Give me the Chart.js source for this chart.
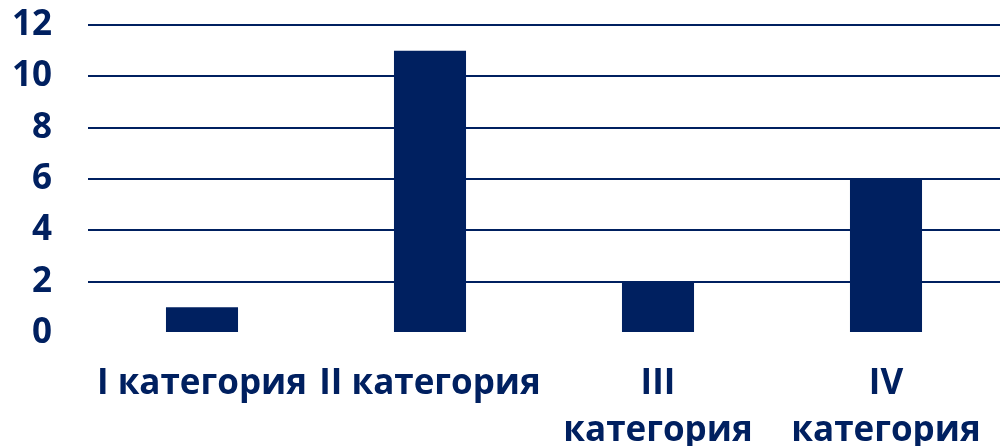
<!DOCTYPE html>
<html>
<head>
<meta charset="utf-8">
<script src="https://cdn.jsdelivr.net/npm/chart.js@4"></script>
<style>
  html, body { margin: 0; padding: 0; background: #ffffff; }
  #wrap { width: 1000px; height: 446px; }
</style>
</head>
<body>
<div id="wrap"><canvas id="barChart" width="1000" height="446"></canvas></div>
<script>
// categories (multi-line where the original wraps)
const categories = [["I категория"], ["II категория"], ["III", "категория"], ["IV", "категория"]];
const values = [1, 11, 2, 6];
const yTicks = [0, 2, 4, 6, 8, 10, 12];

const navy = "#002060";

const ctx = document.getElementById("barChart").getContext("2d");
new Chart(ctx, {
  type: "bar",
  data: {
    labels: categories,
    datasets: [
      {
        label: "Ряд 1",
        data: values,
        backgroundColor: navy,
        barPercentage: 0.632,
        categoryPercentage: 0.5,
      },
    ],
  },
  options: {
    responsive: false,
    animation: false,
    layout: { padding: { top: 25, right: 0, left: 0, bottom: 0 } },
    plugins: {
      legend: { display: false },
      tooltip: { enabled: false },
    },
    scales: {
      x: {
        grid: { display: false },
        border: { display: false },
        ticks: {
          color: navy,
          padding: 20,
          maxRotation: 0,
          autoSkip: false,
          font: { family: "'Open Sans'", weight: "bold", size: 35, lineHeight: 1.34 },
        },
        afterFit: (scale) => {
          scale.height = 113;
          scale.paddingTop = 0;
          scale.paddingLeft = 0;
          scale.paddingRight = 0;
        },
      },
      y: {
        min: 0,
        max: 12,
        afterBuildTicks: (scale) => { scale.ticks = yTicks.map((v) => ({ value: v })); },
        grid: {
          drawTicks: false,
          lineWidth: 2,
          color: (c) => (c.tick && c.tick.value === 0 ? "rgba(0,0,0,0)" : navy),
        },
        border: { display: false },
        ticks: {
          color: navy,
          padding: 36,
          autoSkip: false,
          font: { family: "'Open Sans'", weight: "bold", size: 35 },
        },
        afterFit: (scale) => { scale.width = 88; scale.paddingTop = 0; scale.paddingBottom = 0; },
      },
    },
  },
});
</script>
</body>
</html>
